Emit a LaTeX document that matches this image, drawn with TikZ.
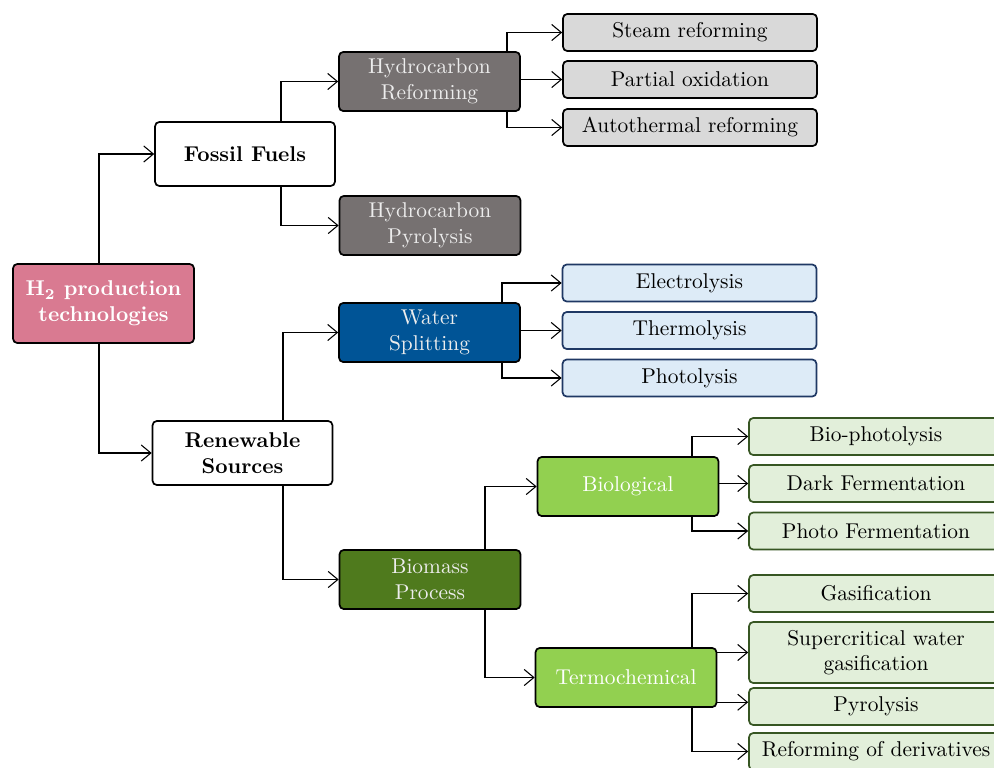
\documentclass[tikz,border=0pt]{standalone}
\usepackage{amsmath}
\usepackage{amssymb}
\usepackage[dvipsnames]{xcolor}
\usepackage{tikz}
\usetikzlibrary{positioning,calc,arrows.meta}

\definecolor{rootpink}{RGB}{217,122,145}
\definecolor{hcgray}{RGB}{118,113,113}
\definecolor{wsblue}{RGB}{0,84,150}
\definecolor{bmgreen}{RGB}{79,122,29}
\definecolor{ltgreen}{RGB}{146,208,80}
\definecolor{leafgray}{RGB}{217,217,217}
\definecolor{leafblue}{RGB}{221,235,247}
\definecolor{edgeblue}{RGB}{31,56,100}
\definecolor{leafgreen}{RGB}{226,239,218}
\definecolor{edgegreen}{RGB}{55,86,35}

\begin{document}
\begin{tikzpicture}[x=0.467pt,y=-0.467pt,>={Straight Barb[length=4.5pt,width=7.5pt]}]
            \tikzstyle{box} = [draw=black, rounded corners=2pt, line width=0.8pt, align=center, inner sep=2pt]
            \tikzstyle{rootbox} = [box, fill=rootpink, text=white, font=\bfseries, minimum width=84.5pt, minimum height=36.9pt]
            \tikzstyle{mainbox} = [box, fill=white, font=\bfseries, minimum width=84pt, minimum height=29.9pt]
            \tikzstyle{techbox} = [box, text=white!93!black, minimum width=84.5pt, minimum height=27.6pt]
            \tikzstyle{leaf} = [box, minimum width=118.6pt, minimum height=17.3pt]
            \tikzstyle{link} = [->, line width=0.5pt]
            \useasboundingbox (0,0) rectangle (994,767);
            % root and main branches
            \node[rootbox] (h2) at (103.5,303.5) {H$_\mathbf{2}$ production\\technologies};
            \node[mainbox] (fossil) at (245,154) {Fossil Fuels};
            \node[mainbox] (renew) at (242.5,453) {Renewable\\Sources};
            % technologies
            \node[techbox, fill=hcgray] (hcref) at (429.5,81.5) {Hydrocarbon\\Reforming};
            \node[techbox, fill=hcgray] (hcpyr) at (430,225.5) {Hydrocarbon\\Pyrolysis};
            \node[techbox, fill=wsblue] (water) at (429.5,332.5) {Water\\Splitting};
            \node[techbox, fill=bmgreen] (biomass) at (430,579.5) {Biomass\\Process};
            \node[techbox, fill=ltgreen, text=white] (biolog) at (628,486.5) {Biological};
            \node[techbox, fill=ltgreen, text=white] (thermo) at (626,677.5) {Termochemical};
            % processes
            \node[leaf, fill=leafgray] (steam) at (690,32.5) {Steam reforming};
            \node[leaf, fill=leafgray] (partox) at (690,79.5) {Partial oxidation};
            \node[leaf, fill=leafgray] (autoth) at (690,127.5) {Autothermal reforming};
            \node[leaf, fill=leafblue, draw=edgeblue] (electro) at (689.5,283) {Electrolysis};
            \node[leaf, fill=leafblue, draw=edgeblue] (thermol) at (689.5,330.5) {Thermolysis};
            \node[leaf, fill=leafblue, draw=edgeblue] (photol) at (689.5,378) {Photolysis};
            \node[leaf, fill=leafgreen, draw=edgegreen] (biophot) at (876,436.5) {Bio-photolysis};
            \node[leaf, fill=leafgreen, draw=edgegreen] (darkferm) at (876,483.5) {Dark Fermentation};
            \node[leaf, fill=leafgreen, draw=edgegreen] (photoferm) at (876,531) {Photo Fermentation};
            \node[leaf, fill=leafgreen, draw=edgegreen] (gasif) at (876,593.5) {Gasification};
            \node[leaf, fill=leafgreen, draw=edgegreen, minimum height=28.5pt] (supercrit) at (876,652.5) {Supercritical water\\gasification};
            \node[leaf, fill=leafgreen, draw=edgegreen] (pyrol) at (876,706.5) {Pyrolysis};
            \node[leaf, fill=leafgreen, draw=edgegreen] (reformder) at (876,751.5) {Reforming of derivatives};
            % fork positions
            \coordinate (f0) at (99,0);
            \coordinate (f1) at (281,0);
            \coordinate (f1r) at (283,0);
            \coordinate (f2) at (507,0);
            \coordinate (f2w) at (502,0);
            \coordinate (f2b) at (485,0);
            \coordinate (f3) at (692,0);
            % connectors
            \draw[link] (h2.north -| f0) |- (fossil.west);
            \draw[link] (h2.south -| f0) |- (renew.west);
            \draw[link] (fossil.north -| f1) |- (hcref.west);
            \draw[link] (fossil.south -| f1) |- (hcpyr.west);
            \draw[link] (renew.north -| f1r) |- (water.west);
            \draw[link] (renew.south -| f1r) |- (biomass.west);
            \draw[link] (hcref.north -| f2) |- (steam.west);
            \draw[link] (hcref.east |- partox.west) -- (partox.west);
            \draw[link] (hcref.south -| f2) |- (autoth.west);
            \draw[link] (water.north -| f2w) |- (electro.west);
            \draw[link] (water.east |- thermol.west) -- (thermol.west);
            \draw[link] (water.south -| f2w) |- (photol.west);
            \draw[link] (biomass.north -| f2b) |- (biolog.west);
            \draw[link] (biomass.south -| f2b) |- (thermo.west);
            \draw[link] (biolog.north -| f3) |- (biophot.west);
            \draw[link] (biolog.east |- darkferm.west) -- (darkferm.west);
            \draw[link] (biolog.south -| f3) |- (photoferm.west);
            \draw[link] (thermo.north -| f3) |- (gasif.west);
            \draw[link] (thermo.east |- supercrit.west) -- (supercrit.west);
            \draw[link] ([yshift=2pt]thermo.east |- pyrol.west) -- ([yshift=2pt]pyrol.west);
            \draw[link] (thermo.south -| f3) |- (reformder.west);
\end{tikzpicture}
\end{document}
